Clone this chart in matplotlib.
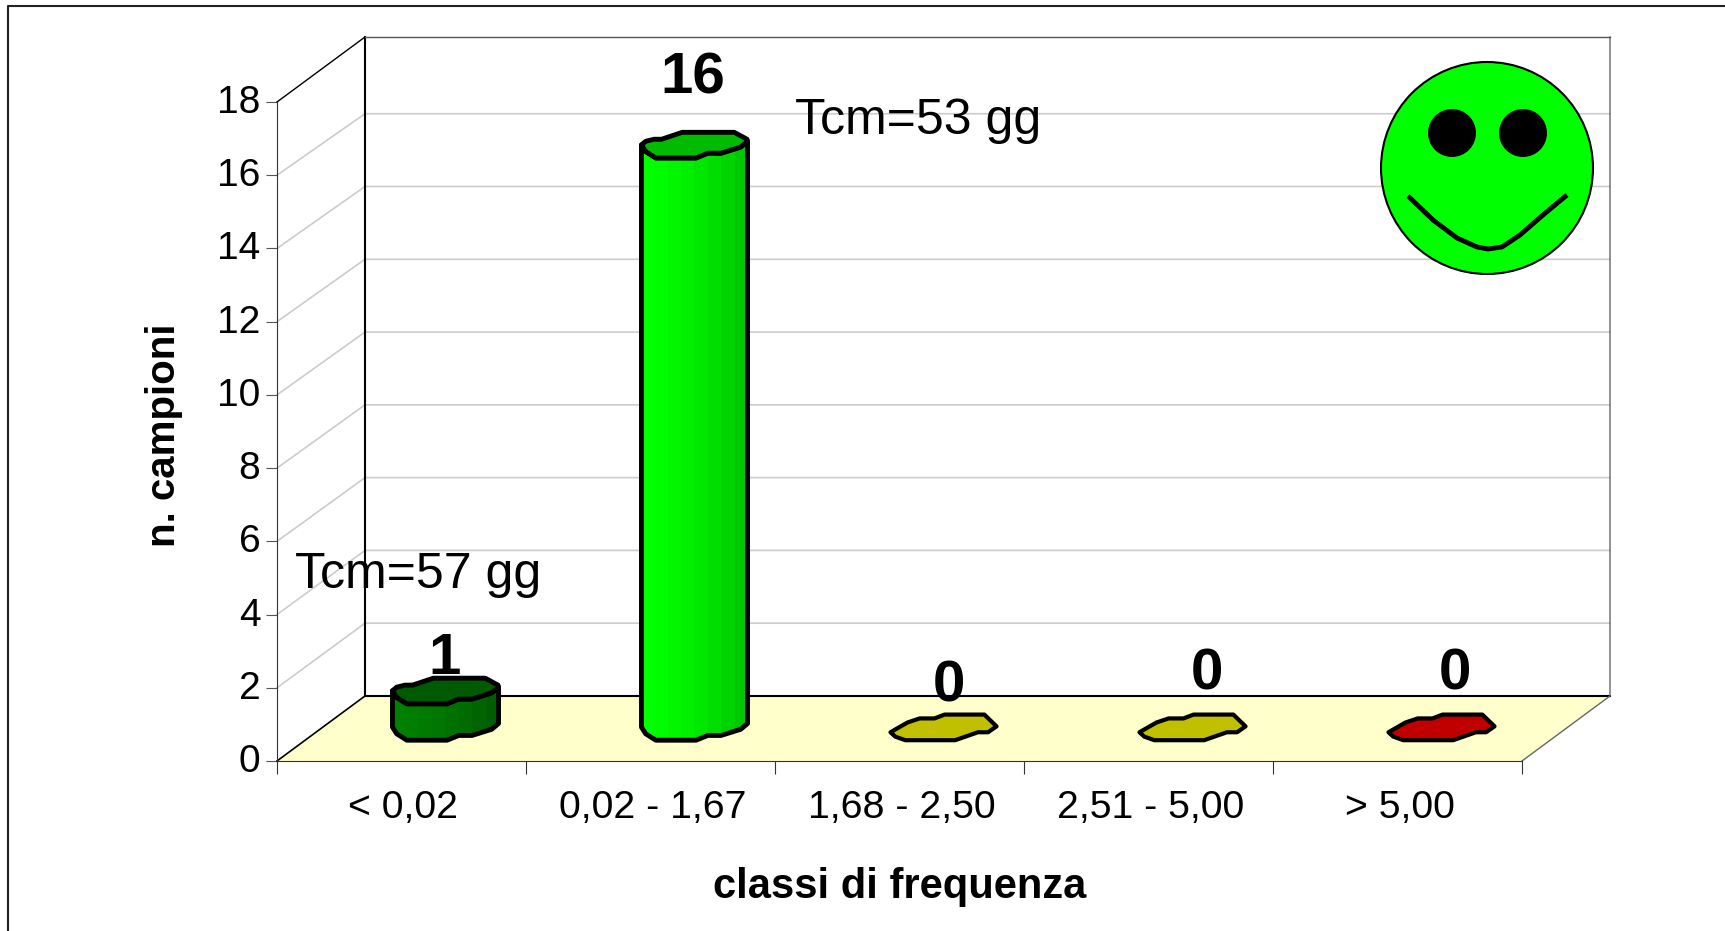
import matplotlib
matplotlib.use("Agg")
import matplotlib.pyplot as plt
import numpy as np
from matplotlib.patches import Circle, Polygon
from matplotlib.transforms import ScaledTranslation

plt.rcParams['font.family'] = ['Liberation Sans', 'DejaVu Sans']

categories = ["< 0,02", "0,02 - 1,67", "1,68 - 2,50", "2,51 - 5,00", "> 5,00"]
values = [1, 16, 0, 0, 0]
y_ticks = [0, 2, 4, 6, 8, 10, 12, 14, 16, 18]
side_left = ["#008000", "#00ff00", "#c0c000", "#c0c000", "#c00000"]
side_right = ["#005500", "#00bb00", "#c0c000", "#c0c000", "#c00000"]
top_colors = ["#005a00", "#00bb00", "#c0c000", "#c0c000", "#c00000"]

W, H = 1725, 931
X0, X1, Y0, Y18 = 277, 1522, 761, 102  # front plane of the 3d box, in pixels
DX, DY = 88 / 249, 65 / 36.6           # box depth, in category and value units
WALL = 0.994                           # back wall and bars run a little shorter than the front axis
HW, HH = 0.213, 0.35                   # half size of one bar section

# outline of the bar section, -1..1, going round from the left end
top_lower = [(-1, 0.02), (-0.92, -0.5), (-0.73, -1), (0.03, -1), (0.25, -0.63), (0.5, -0.63), (0.87, -0.15), (1, 0.3)]
top_upper = [(0.99, 0.46), (0.75, 1), (-0.23, 1), (-0.62, 0.46), (-0.76, 0.46), (-0.92, 0.3)]
flat_shape = [(-1, -0.38), (-0.68, 0.38), (-0.45, 0.7), (-0.17, 0.7), (0.02, 1), (0.77, 1), (1, 0.08),
              (0.84, -0.38), (0.65, -0.38), (0.22, -1), (-0.72, -1), (-0.91, -0.72)]
label_px = [(445, 655), (693, 75), (949, 683), (1207, 670), (1455, 670)]


def draw_bar(ax, i, value):
    cx = i + 0.5 + DX / 2
    base = DY / 2 + 0.03
    if value == 0:
        pts = [(cx + a * HW, base + b * HH) for a, b in flat_shape]
        ax.add_patch(Polygon(pts, closed=True, fc=top_colors[i], ec="black", lw=3, joinstyle="round",
                             clip_on=False, zorder=5))
        return
    top = base + value * WALL
    low = [(cx + a * HW, base + b * HH) for a, b in top_lower]
    high = [(cx + a * HW, top + b * HH) for a, b in top_lower]
    body = low + high[::-1]
    ax.add_patch(Polygon(body, closed=True, fc="none", ec="black", lw=3.5, joinstyle="round",
                         clip_on=False, zorder=6))
    c0 = np.array(matplotlib.colors.to_rgb(side_left[i]))
    c1 = np.array(matplotlib.colors.to_rgb(side_right[i]))
    steps = np.linspace(0, 1, 9)[:-1]
    grad = np.array([[c0 + (c1 - c0) * s ** 1.6 for s in steps]])
    im = ax.imshow(grad, extent=(cx - HW, cx + HW, base - HH, top + HH), aspect="auto",
                   interpolation="nearest", zorder=5)
    im.set_clip_path(Polygon(body, closed=True, transform=ax.transData))
    cap = [(cx + a * HW, top + b * HH) for a, b in top_lower + top_upper]
    ax.add_patch(Polygon(cap, closed=True, fc=top_colors[i], ec="black", lw=3.5, joinstyle="round",
                         clip_on=False, zorder=7))


fig = plt.figure(figsize=(W / 100, H / 100), dpi=100)
ax = fig.add_axes([X0 / W, (H - Y0) / H, (X1 - X0) / W, (Y0 - Y18) / H])
ax.patch.set_visible(False)

# floor and walls
ax.add_patch(Polygon([(0, 0), (5, 0), (5 + DX, DY), (DX, DY)], closed=True, fc="#ffffcc", ec="none",
                     clip_on=False, zorder=1))
for v in y_ticks[1:-1]:
    ax.plot([0, DX, 5 + DX], [v, v * WALL + DY, v * WALL + DY], color="#cccccc", lw=1.2, clip_on=False, zorder=1)
ax.plot([DX, 5 + DX], [DY, DY], color="black", lw=1.5, clip_on=False, zorder=2)
ax.plot([0, DX], [0, DY], color="black", lw=1.2, clip_on=False, zorder=2)
ax.plot([5, 5 + DX, 5 + DX], [0, DY, 18 + DY], color="#666666", lw=1, clip_on=False, zorder=2)
ax.plot([DX, DX], [DY, 18 + DY], color="black", lw=1.5, clip_on=False, zorder=2)
ax.plot([0, DX], [18, 18 + DY], color="black", lw=1, clip_on=False, zorder=2)
ax.plot([DX, 5 + DX], [18 + DY, 18 + DY], color="#555555", lw=1, clip_on=False, zorder=2)

for i, v in enumerate(values):
    draw_bar(ax, i, v)

ax.set_xlim(0, 5)
ax.set_ylim(0, 18)
for spine in ["top", "right"]:
    ax.spines[spine].set_visible(False)
ax.spines["left"].set_color("#333333")
ax.spines["bottom"].set_color("#333333")
ax.set_yticks(y_ticks)
ax.set_xticks(range(6))
ax.set_xticklabels([])
ax.set_xticks(np.arange(5) + 0.5, categories, minor=True)
ax.tick_params(axis="x", which="major", length=9, color="#333333")
ax.tick_params(axis="x", which="minor", length=0, labelsize=28.3, pad=21)
ax.tick_params(axis="y", length=8, color="#555555", labelsize=28, pad=4)
up = ScaledTranslation(0, 3 / 100, fig.dpi_scale_trans)
for lab in ax.get_yticklabels():
    lab.set_transform(lab.get_transform() + up)
right = ScaledTranslation(2 / 100, 0, fig.dpi_scale_trans)
for lab in ax.get_xticklabels(minor=True):
    lab.set_transform(lab.get_transform() + right)
ax.set_xlabel("classi di frequenza", fontsize=30, fontweight="bold", labelpad=29.5)
ax.set_ylabel("n. campioni", fontsize=29, fontweight="bold")
ax.yaxis.set_label_coords(-0.0752, 0.495)

# overlay in pixels: frame, notes, smiley
top = fig.add_axes([0, 0, 1, 1])
top.set_xlim(0, W)
top.set_ylim(H, 0)
top.axis("off")
top.plot([W, 8, 8], [6, 6, H], color="#222222", lw=1.5, clip_on=False)
for (px, py), v in zip(label_px, values):
    top.text(px, py + 4, str(v), fontsize=42, fontweight="bold", ha="center", va="center")
top.text(795, 121, "Tcm=53 gg", fontsize=36, ha="left", va="center")
top.text(295, 575, "Tcm=57 gg", fontsize=36, ha="left", va="center")
top.add_patch(Circle((1487, 168), 106, fc="#00ff00", ec="black", lw=1.5))
top.add_patch(Circle((1452, 133), 24, fc="black", ec="none"))
top.add_patch(Circle((1523, 133), 24, fc="black", ec="none"))
smile_x = [1408, 1433, 1457, 1477, 1488, 1502, 1520, 1543, 1567]
smile_y = [196, 220, 238, 247, 249, 247, 235, 215, 195]
top.plot(smile_x, smile_y, color="black", lw=3.5, solid_joinstyle="round", solid_capstyle="butt")

fig.savefig("out.png", dpi=100)
